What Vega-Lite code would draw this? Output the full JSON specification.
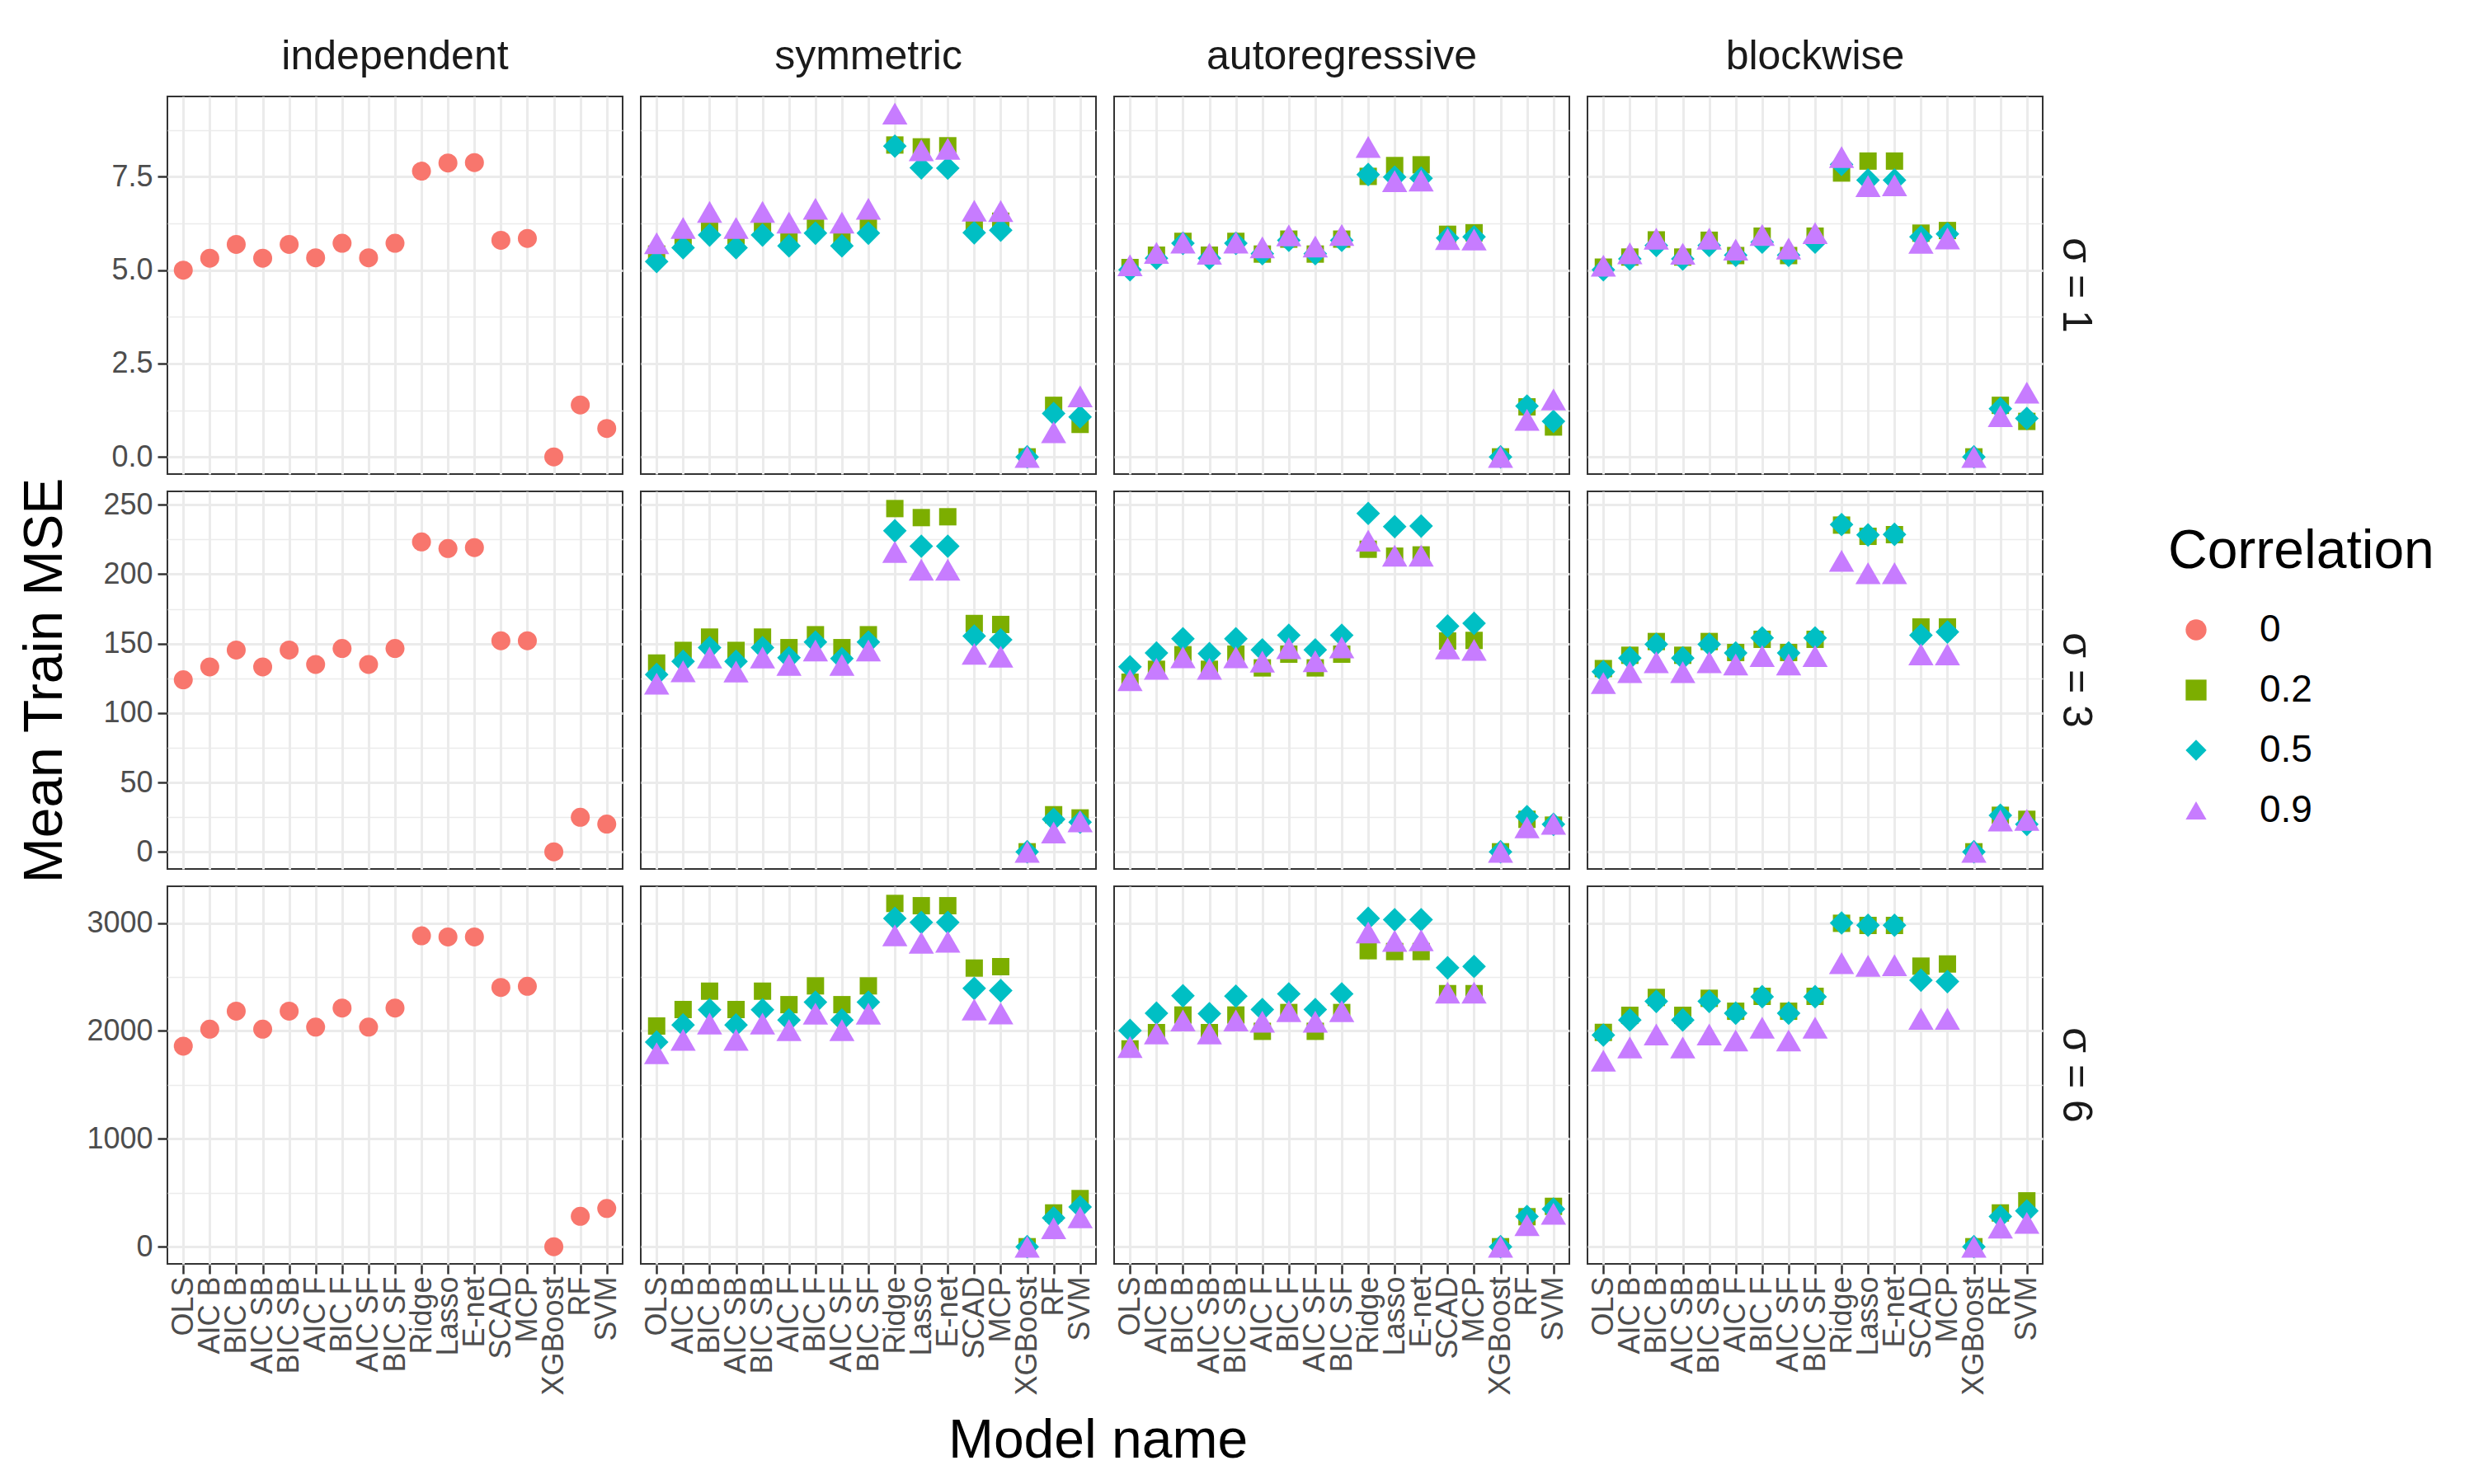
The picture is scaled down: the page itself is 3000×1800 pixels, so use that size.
{
"$schema":"https://vega.github.io/schema/vega-lite/v6.json",
"background":"white",
"padding":{"left":20,"top":44,"right":5,"bottom":5},
"config":{
 "font":"Liberation Sans",
 "view":{"stroke":"#333333","strokeWidth":2},
 "axis":{"labelFont":"Liberation Sans","labelFontSize":36,"labelColor":"#4D4D4D","tickColor":"#333333","tickSize":11,"tickWidth":2.5,"gridColor":"#EBEBEB","gridWidth":3,"domain":false,"titleFont":"Liberation Sans","titleFontSize":66,"titleFontWeight":"normal","titleColor":"#000000","labelPadding":6},
 "header":{"labelFont":"Liberation Sans","labelFontSize":50,"labelColor":"#1A1A1A"},
 "legend":{"titleFont":"Liberation Sans","titleFontSize":66,"titleFontWeight":"normal","titleColor":"#000000","titleLimit":1000,"labelFont":"Liberation Sans","labelFontSize":46,"labelColor":"#000000","rowPadding":27,"titlePadding":38,"symbolOffset":11,"labelOffset":54,"symbolSize":640,"symbolStrokeWidth":0},
 "title":{"font":"Liberation Sans","fontSize":66,"fontWeight":"normal","color":"#000000"}
},
"datasets":{
"r1":[
{"st":"independent","sig":"σ = 1","model":"OLS","corr":"0","mse":5.0},
{"st":"independent","sig":"σ = 1","model":"AIC B","corr":"0","mse":5.32},
{"st":"independent","sig":"σ = 1","model":"BIC B","corr":"0","mse":5.69},
{"st":"independent","sig":"σ = 1","model":"AIC SB","corr":"0","mse":5.32},
{"st":"independent","sig":"σ = 1","model":"BIC SB","corr":"0","mse":5.69},
{"st":"independent","sig":"σ = 1","model":"AIC F","corr":"0","mse":5.33},
{"st":"independent","sig":"σ = 1","model":"BIC F","corr":"0","mse":5.72},
{"st":"independent","sig":"σ = 1","model":"AIC SF","corr":"0","mse":5.33},
{"st":"independent","sig":"σ = 1","model":"BIC SF","corr":"0","mse":5.72},
{"st":"independent","sig":"σ = 1","model":"Ridge","corr":"0","mse":7.65},
{"st":"independent","sig":"σ = 1","model":"Lasso","corr":"0","mse":7.87},
{"st":"independent","sig":"σ = 1","model":"E-net","corr":"0","mse":7.88},
{"st":"independent","sig":"σ = 1","model":"SCAD","corr":"0","mse":5.8},
{"st":"independent","sig":"σ = 1","model":"MCP","corr":"0","mse":5.85},
{"st":"independent","sig":"σ = 1","model":"XGBoost","corr":"0","mse":0},
{"st":"independent","sig":"σ = 1","model":"RF","corr":"0","mse":1.39},
{"st":"independent","sig":"σ = 1","model":"SVM","corr":"0","mse":0.76},
{"st":"symmetric","sig":"σ = 1","model":"OLS","corr":"0.2","mse":5.43},
{"st":"symmetric","sig":"σ = 1","model":"AIC B","corr":"0.2","mse":5.79},
{"st":"symmetric","sig":"σ = 1","model":"BIC B","corr":"0.2","mse":6.16},
{"st":"symmetric","sig":"σ = 1","model":"AIC SB","corr":"0.2","mse":5.79},
{"st":"symmetric","sig":"σ = 1","model":"BIC SB","corr":"0.2","mse":6.16},
{"st":"symmetric","sig":"σ = 1","model":"AIC F","corr":"0.2","mse":5.87},
{"st":"symmetric","sig":"σ = 1","model":"BIC F","corr":"0.2","mse":6.24},
{"st":"symmetric","sig":"σ = 1","model":"AIC SF","corr":"0.2","mse":5.87},
{"st":"symmetric","sig":"σ = 1","model":"BIC SF","corr":"0.2","mse":6.24},
{"st":"symmetric","sig":"σ = 1","model":"Ridge","corr":"0.2","mse":8.35},
{"st":"symmetric","sig":"σ = 1","model":"Lasso","corr":"0.2","mse":8.30},
{"st":"symmetric","sig":"σ = 1","model":"E-net","corr":"0.2","mse":8.33},
{"st":"symmetric","sig":"σ = 1","model":"SCAD","corr":"0.2","mse":6.20},
{"st":"symmetric","sig":"σ = 1","model":"MCP","corr":"0.2","mse":6.31},
{"st":"symmetric","sig":"σ = 1","model":"XGBoost","corr":"0.2","mse":0},
{"st":"symmetric","sig":"σ = 1","model":"RF","corr":"0.2","mse":1.38},
{"st":"symmetric","sig":"σ = 1","model":"SVM","corr":"0.2","mse":0.87},
{"st":"symmetric","sig":"σ = 1","model":"OLS","corr":"0.5","mse":5.23},
{"st":"symmetric","sig":"σ = 1","model":"AIC B","corr":"0.5","mse":5.60},
{"st":"symmetric","sig":"σ = 1","model":"BIC B","corr":"0.5","mse":5.94},
{"st":"symmetric","sig":"σ = 1","model":"AIC SB","corr":"0.5","mse":5.60},
{"st":"symmetric","sig":"σ = 1","model":"BIC SB","corr":"0.5","mse":5.94},
{"st":"symmetric","sig":"σ = 1","model":"AIC F","corr":"0.5","mse":5.65},
{"st":"symmetric","sig":"σ = 1","model":"BIC F","corr":"0.5","mse":5.99},
{"st":"symmetric","sig":"σ = 1","model":"AIC SF","corr":"0.5","mse":5.65},
{"st":"symmetric","sig":"σ = 1","model":"BIC SF","corr":"0.5","mse":5.99},
{"st":"symmetric","sig":"σ = 1","model":"Ridge","corr":"0.5","mse":8.32},
{"st":"symmetric","sig":"σ = 1","model":"Lasso","corr":"0.5","mse":7.74},
{"st":"symmetric","sig":"σ = 1","model":"E-net","corr":"0.5","mse":7.73},
{"st":"symmetric","sig":"σ = 1","model":"SCAD","corr":"0.5","mse":6.00},
{"st":"symmetric","sig":"σ = 1","model":"MCP","corr":"0.5","mse":6.07},
{"st":"symmetric","sig":"σ = 1","model":"XGBoost","corr":"0.5","mse":0},
{"st":"symmetric","sig":"σ = 1","model":"RF","corr":"0.5","mse":1.16},
{"st":"symmetric","sig":"σ = 1","model":"SVM","corr":"0.5","mse":1.07},
{"st":"symmetric","sig":"σ = 1","model":"OLS","corr":"0.9","mse":5.72},
{"st":"symmetric","sig":"σ = 1","model":"AIC B","corr":"0.9","mse":6.13},
{"st":"symmetric","sig":"σ = 1","model":"BIC B","corr":"0.9","mse":6.56},
{"st":"symmetric","sig":"σ = 1","model":"AIC SB","corr":"0.9","mse":6.13},
{"st":"symmetric","sig":"σ = 1","model":"BIC SB","corr":"0.9","mse":6.56},
{"st":"symmetric","sig":"σ = 1","model":"AIC F","corr":"0.9","mse":6.27},
{"st":"symmetric","sig":"σ = 1","model":"BIC F","corr":"0.9","mse":6.64},
{"st":"symmetric","sig":"σ = 1","model":"AIC SF","corr":"0.9","mse":6.27},
{"st":"symmetric","sig":"σ = 1","model":"BIC SF","corr":"0.9","mse":6.64},
{"st":"symmetric","sig":"σ = 1","model":"Ridge","corr":"0.9","mse":9.19},
{"st":"symmetric","sig":"σ = 1","model":"Lasso","corr":"0.9","mse":8.21},
{"st":"symmetric","sig":"σ = 1","model":"E-net","corr":"0.9","mse":8.25},
{"st":"symmetric","sig":"σ = 1","model":"SCAD","corr":"0.9","mse":6.59},
{"st":"symmetric","sig":"σ = 1","model":"MCP","corr":"0.9","mse":6.58},
{"st":"symmetric","sig":"σ = 1","model":"XGBoost","corr":"0.9","mse":0},
{"st":"symmetric","sig":"σ = 1","model":"RF","corr":"0.9","mse":0.66},
{"st":"symmetric","sig":"σ = 1","model":"SVM","corr":"0.9","mse":1.62},
{"st":"autoregressive","sig":"σ = 1","model":"OLS","corr":"0.2","mse":5.07},
{"st":"autoregressive","sig":"σ = 1","model":"AIC B","corr":"0.2","mse":5.40},
{"st":"autoregressive","sig":"σ = 1","model":"BIC B","corr":"0.2","mse":5.77},
{"st":"autoregressive","sig":"σ = 1","model":"AIC SB","corr":"0.2","mse":5.40},
{"st":"autoregressive","sig":"σ = 1","model":"BIC SB","corr":"0.2","mse":5.77},
{"st":"autoregressive","sig":"σ = 1","model":"AIC F","corr":"0.2","mse":5.43},
{"st":"autoregressive","sig":"σ = 1","model":"BIC F","corr":"0.2","mse":5.83},
{"st":"autoregressive","sig":"σ = 1","model":"AIC SF","corr":"0.2","mse":5.43},
{"st":"autoregressive","sig":"σ = 1","model":"BIC SF","corr":"0.2","mse":5.83},
{"st":"autoregressive","sig":"σ = 1","model":"Ridge","corr":"0.2","mse":7.51},
{"st":"autoregressive","sig":"σ = 1","model":"Lasso","corr":"0.2","mse":7.80},
{"st":"autoregressive","sig":"σ = 1","model":"E-net","corr":"0.2","mse":7.82},
{"st":"autoregressive","sig":"σ = 1","model":"SCAD","corr":"0.2","mse":5.96},
{"st":"autoregressive","sig":"σ = 1","model":"MCP","corr":"0.2","mse":6.00},
{"st":"autoregressive","sig":"σ = 1","model":"XGBoost","corr":"0.2","mse":0},
{"st":"autoregressive","sig":"σ = 1","model":"RF","corr":"0.2","mse":1.34},
{"st":"autoregressive","sig":"σ = 1","model":"SVM","corr":"0.2","mse":0.80},
{"st":"autoregressive","sig":"σ = 1","model":"OLS","corr":"0.5","mse":5.01},
{"st":"autoregressive","sig":"σ = 1","model":"AIC B","corr":"0.5","mse":5.32},
{"st":"autoregressive","sig":"σ = 1","model":"BIC B","corr":"0.5","mse":5.72},
{"st":"autoregressive","sig":"σ = 1","model":"AIC SB","corr":"0.5","mse":5.32},
{"st":"autoregressive","sig":"σ = 1","model":"BIC SB","corr":"0.5","mse":5.72},
{"st":"autoregressive","sig":"σ = 1","model":"AIC F","corr":"0.5","mse":5.44},
{"st":"autoregressive","sig":"σ = 1","model":"BIC F","corr":"0.5","mse":5.80},
{"st":"autoregressive","sig":"σ = 1","model":"AIC SF","corr":"0.5","mse":5.44},
{"st":"autoregressive","sig":"σ = 1","model":"BIC SF","corr":"0.5","mse":5.80},
{"st":"autoregressive","sig":"σ = 1","model":"Ridge","corr":"0.5","mse":7.56},
{"st":"autoregressive","sig":"σ = 1","model":"Lasso","corr":"0.5","mse":7.49},
{"st":"autoregressive","sig":"σ = 1","model":"E-net","corr":"0.5","mse":7.46},
{"st":"autoregressive","sig":"σ = 1","model":"SCAD","corr":"0.5","mse":5.86},
{"st":"autoregressive","sig":"σ = 1","model":"MCP","corr":"0.5","mse":5.89},
{"st":"autoregressive","sig":"σ = 1","model":"XGBoost","corr":"0.5","mse":0},
{"st":"autoregressive","sig":"σ = 1","model":"RF","corr":"0.5","mse":1.36},
{"st":"autoregressive","sig":"σ = 1","model":"SVM","corr":"0.5","mse":0.95},
{"st":"autoregressive","sig":"σ = 1","model":"OLS","corr":"0.9","mse":5.13},
{"st":"autoregressive","sig":"σ = 1","model":"AIC B","corr":"0.9","mse":5.46},
{"st":"autoregressive","sig":"σ = 1","model":"BIC B","corr":"0.9","mse":5.74},
{"st":"autoregressive","sig":"σ = 1","model":"AIC SB","corr":"0.9","mse":5.44},
{"st":"autoregressive","sig":"σ = 1","model":"BIC SB","corr":"0.9","mse":5.74},
{"st":"autoregressive","sig":"σ = 1","model":"AIC F","corr":"0.9","mse":5.61},
{"st":"autoregressive","sig":"σ = 1","model":"BIC F","corr":"0.9","mse":5.93},
{"st":"autoregressive","sig":"σ = 1","model":"AIC SF","corr":"0.9","mse":5.63},
{"st":"autoregressive","sig":"σ = 1","model":"BIC SF","corr":"0.9","mse":5.94},
{"st":"autoregressive","sig":"σ = 1","model":"Ridge","corr":"0.9","mse":8.30},
{"st":"autoregressive","sig":"σ = 1","model":"Lasso","corr":"0.9","mse":7.38},
{"st":"autoregressive","sig":"σ = 1","model":"E-net","corr":"0.9","mse":7.40},
{"st":"autoregressive","sig":"σ = 1","model":"SCAD","corr":"0.9","mse":5.83},
{"st":"autoregressive","sig":"σ = 1","model":"MCP","corr":"0.9","mse":5.82},
{"st":"autoregressive","sig":"σ = 1","model":"XGBoost","corr":"0.9","mse":0},
{"st":"autoregressive","sig":"σ = 1","model":"RF","corr":"0.9","mse":0.99},
{"st":"autoregressive","sig":"σ = 1","model":"SVM","corr":"0.9","mse":1.54},
{"st":"blockwise","sig":"σ = 1","model":"OLS","corr":"0.2","mse":5.08},
{"st":"blockwise","sig":"σ = 1","model":"AIC B","corr":"0.2","mse":5.35},
{"st":"blockwise","sig":"σ = 1","model":"BIC B","corr":"0.2","mse":5.81},
{"st":"blockwise","sig":"σ = 1","model":"AIC SB","corr":"0.2","mse":5.35},
{"st":"blockwise","sig":"σ = 1","model":"BIC SB","corr":"0.2","mse":5.80},
{"st":"blockwise","sig":"σ = 1","model":"AIC F","corr":"0.2","mse":5.39},
{"st":"blockwise","sig":"σ = 1","model":"BIC F","corr":"0.2","mse":5.91},
{"st":"blockwise","sig":"σ = 1","model":"AIC SF","corr":"0.2","mse":5.39},
{"st":"blockwise","sig":"σ = 1","model":"BIC SF","corr":"0.2","mse":5.91},
{"st":"blockwise","sig":"σ = 1","model":"Ridge","corr":"0.2","mse":7.60},
{"st":"blockwise","sig":"σ = 1","model":"Lasso","corr":"0.2","mse":7.92},
{"st":"blockwise","sig":"σ = 1","model":"E-net","corr":"0.2","mse":7.92},
{"st":"blockwise","sig":"σ = 1","model":"SCAD","corr":"0.2","mse":5.99},
{"st":"blockwise","sig":"σ = 1","model":"MCP","corr":"0.2","mse":6.06},
{"st":"blockwise","sig":"σ = 1","model":"XGBoost","corr":"0.2","mse":0},
{"st":"blockwise","sig":"σ = 1","model":"RF","corr":"0.2","mse":1.38},
{"st":"blockwise","sig":"σ = 1","model":"SVM","corr":"0.2","mse":0.95},
{"st":"blockwise","sig":"σ = 1","model":"OLS","corr":"0.5","mse":5.01},
{"st":"blockwise","sig":"σ = 1","model":"AIC B","corr":"0.5","mse":5.30},
{"st":"blockwise","sig":"σ = 1","model":"BIC B","corr":"0.5","mse":5.66},
{"st":"blockwise","sig":"σ = 1","model":"AIC SB","corr":"0.5","mse":5.30},
{"st":"blockwise","sig":"σ = 1","model":"BIC SB","corr":"0.5","mse":5.66},
{"st":"blockwise","sig":"σ = 1","model":"AIC F","corr":"0.5","mse":5.40},
{"st":"blockwise","sig":"σ = 1","model":"BIC F","corr":"0.5","mse":5.75},
{"st":"blockwise","sig":"σ = 1","model":"AIC SF","corr":"0.5","mse":5.40},
{"st":"blockwise","sig":"σ = 1","model":"BIC SF","corr":"0.5","mse":5.75},
{"st":"blockwise","sig":"σ = 1","model":"Ridge","corr":"0.5","mse":7.83},
{"st":"blockwise","sig":"σ = 1","model":"Lasso","corr":"0.5","mse":7.41},
{"st":"blockwise","sig":"σ = 1","model":"E-net","corr":"0.5","mse":7.41},
{"st":"blockwise","sig":"σ = 1","model":"SCAD","corr":"0.5","mse":5.89},
{"st":"blockwise","sig":"σ = 1","model":"MCP","corr":"0.5","mse":5.97},
{"st":"blockwise","sig":"σ = 1","model":"XGBoost","corr":"0.5","mse":0},
{"st":"blockwise","sig":"σ = 1","model":"RF","corr":"0.5","mse":1.29},
{"st":"blockwise","sig":"σ = 1","model":"SVM","corr":"0.5","mse":1.03},
{"st":"blockwise","sig":"σ = 1","model":"OLS","corr":"0.9","mse":5.12},
{"st":"blockwise","sig":"σ = 1","model":"AIC B","corr":"0.9","mse":5.45},
{"st":"blockwise","sig":"σ = 1","model":"BIC B","corr":"0.9","mse":5.84},
{"st":"blockwise","sig":"σ = 1","model":"AIC SB","corr":"0.9","mse":5.44},
{"st":"blockwise","sig":"σ = 1","model":"BIC SB","corr":"0.9","mse":5.84},
{"st":"blockwise","sig":"σ = 1","model":"AIC F","corr":"0.9","mse":5.55},
{"st":"blockwise","sig":"σ = 1","model":"BIC F","corr":"0.9","mse":5.94},
{"st":"blockwise","sig":"σ = 1","model":"AIC SF","corr":"0.9","mse":5.58},
{"st":"blockwise","sig":"σ = 1","model":"BIC SF","corr":"0.9","mse":5.99},
{"st":"blockwise","sig":"σ = 1","model":"Ridge","corr":"0.9","mse":8.03},
{"st":"blockwise","sig":"σ = 1","model":"Lasso","corr":"0.9","mse":7.25},
{"st":"blockwise","sig":"σ = 1","model":"E-net","corr":"0.9","mse":7.27},
{"st":"blockwise","sig":"σ = 1","model":"SCAD","corr":"0.9","mse":5.73},
{"st":"blockwise","sig":"σ = 1","model":"MCP","corr":"0.9","mse":5.85},
{"st":"blockwise","sig":"σ = 1","model":"XGBoost","corr":"0.9","mse":0},
{"st":"blockwise","sig":"σ = 1","model":"RF","corr":"0.9","mse":1.09},
{"st":"blockwise","sig":"σ = 1","model":"SVM","corr":"0.9","mse":1.72}
],
"r3":[
{"st":"independent","sig":"σ = 3","model":"OLS","corr":"0","mse":123.9},
{"st":"independent","sig":"σ = 3","model":"AIC B","corr":"0","mse":133.2},
{"st":"independent","sig":"σ = 3","model":"BIC B","corr":"0","mse":145.4},
{"st":"independent","sig":"σ = 3","model":"AIC SB","corr":"0","mse":133.2},
{"st":"independent","sig":"σ = 3","model":"BIC SB","corr":"0","mse":145.4},
{"st":"independent","sig":"σ = 3","model":"AIC F","corr":"0","mse":135},
{"st":"independent","sig":"σ = 3","model":"BIC F","corr":"0","mse":146.5},
{"st":"independent","sig":"σ = 3","model":"AIC SF","corr":"0","mse":135},
{"st":"independent","sig":"σ = 3","model":"BIC SF","corr":"0","mse":146.5},
{"st":"independent","sig":"σ = 3","model":"Ridge","corr":"0","mse":223.3},
{"st":"independent","sig":"σ = 3","model":"Lasso","corr":"0","mse":218.5},
{"st":"independent","sig":"σ = 3","model":"E-net","corr":"0","mse":219.2},
{"st":"independent","sig":"σ = 3","model":"SCAD","corr":"0","mse":152.1},
{"st":"independent","sig":"σ = 3","model":"MCP","corr":"0","mse":152.1},
{"st":"independent","sig":"σ = 3","model":"XGBoost","corr":"0","mse":0},
{"st":"independent","sig":"σ = 3","model":"RF","corr":"0","mse":24.9},
{"st":"independent","sig":"σ = 3","model":"SVM","corr":"0","mse":20},
{"st":"symmetric","sig":"σ = 3","model":"OLS","corr":"0.2","mse":136},
{"st":"symmetric","sig":"σ = 3","model":"AIC B","corr":"0.2","mse":145.1},
{"st":"symmetric","sig":"σ = 3","model":"BIC B","corr":"0.2","mse":154.7},
{"st":"symmetric","sig":"σ = 3","model":"AIC SB","corr":"0.2","mse":145.1},
{"st":"symmetric","sig":"σ = 3","model":"BIC SB","corr":"0.2","mse":154.7},
{"st":"symmetric","sig":"σ = 3","model":"AIC F","corr":"0.2","mse":147.1},
{"st":"symmetric","sig":"σ = 3","model":"BIC F","corr":"0.2","mse":156.4},
{"st":"symmetric","sig":"σ = 3","model":"AIC SF","corr":"0.2","mse":147.1},
{"st":"symmetric","sig":"σ = 3","model":"BIC SF","corr":"0.2","mse":156.4},
{"st":"symmetric","sig":"σ = 3","model":"Ridge","corr":"0.2","mse":247.3},
{"st":"symmetric","sig":"σ = 3","model":"Lasso","corr":"0.2","mse":240.8},
{"st":"symmetric","sig":"σ = 3","model":"E-net","corr":"0.2","mse":241.4},
{"st":"symmetric","sig":"σ = 3","model":"SCAD","corr":"0.2","mse":164.5},
{"st":"symmetric","sig":"σ = 3","model":"MCP","corr":"0.2","mse":163.8},
{"st":"symmetric","sig":"σ = 3","model":"XGBoost","corr":"0.2","mse":0},
{"st":"symmetric","sig":"σ = 3","model":"RF","corr":"0.2","mse":26.7},
{"st":"symmetric","sig":"σ = 3","model":"SVM","corr":"0.2","mse":24.4},
{"st":"symmetric","sig":"σ = 3","model":"OLS","corr":"0.5","mse":127.7},
{"st":"symmetric","sig":"σ = 3","model":"AIC B","corr":"0.5","mse":137.2},
{"st":"symmetric","sig":"σ = 3","model":"BIC B","corr":"0.5","mse":147.1},
{"st":"symmetric","sig":"σ = 3","model":"AIC SB","corr":"0.5","mse":137.2},
{"st":"symmetric","sig":"σ = 3","model":"BIC SB","corr":"0.5","mse":147.1},
{"st":"symmetric","sig":"σ = 3","model":"AIC F","corr":"0.5","mse":139.8},
{"st":"symmetric","sig":"σ = 3","model":"BIC F","corr":"0.5","mse":151.1},
{"st":"symmetric","sig":"σ = 3","model":"AIC SF","corr":"0.5","mse":139.2},
{"st":"symmetric","sig":"σ = 3","model":"BIC SF","corr":"0.5","mse":151.1},
{"st":"symmetric","sig":"σ = 3","model":"Ridge","corr":"0.5","mse":231.3},
{"st":"symmetric","sig":"σ = 3","model":"Lasso","corr":"0.5","mse":220.2},
{"st":"symmetric","sig":"σ = 3","model":"E-net","corr":"0.5","mse":220.2},
{"st":"symmetric","sig":"σ = 3","model":"SCAD","corr":"0.5","mse":155.4},
{"st":"symmetric","sig":"σ = 3","model":"MCP","corr":"0.5","mse":152.7},
{"st":"symmetric","sig":"σ = 3","model":"XGBoost","corr":"0.5","mse":0},
{"st":"symmetric","sig":"σ = 3","model":"RF","corr":"0.5","mse":23.4},
{"st":"symmetric","sig":"σ = 3","model":"SVM","corr":"0.5","mse":21.4},
{"st":"symmetric","sig":"σ = 3","model":"OLS","corr":"0.9","mse":121.2},
{"st":"symmetric","sig":"σ = 3","model":"AIC B","corr":"0.9","mse":130.1},
{"st":"symmetric","sig":"σ = 3","model":"BIC B","corr":"0.9","mse":140},
{"st":"symmetric","sig":"σ = 3","model":"AIC SB","corr":"0.9","mse":129.9},
{"st":"symmetric","sig":"σ = 3","model":"BIC SB","corr":"0.9","mse":140},
{"st":"symmetric","sig":"σ = 3","model":"AIC F","corr":"0.9","mse":134.7},
{"st":"symmetric","sig":"σ = 3","model":"BIC F","corr":"0.9","mse":145},
{"st":"symmetric","sig":"σ = 3","model":"AIC SF","corr":"0.9","mse":134.7},
{"st":"symmetric","sig":"σ = 3","model":"BIC SF","corr":"0.9","mse":145},
{"st":"symmetric","sig":"σ = 3","model":"Ridge","corr":"0.9","mse":216},
{"st":"symmetric","sig":"σ = 3","model":"Lasso","corr":"0.9","mse":203.2},
{"st":"symmetric","sig":"σ = 3","model":"E-net","corr":"0.9","mse":203.2},
{"st":"symmetric","sig":"σ = 3","model":"SCAD","corr":"0.9","mse":142.6},
{"st":"symmetric","sig":"σ = 3","model":"MCP","corr":"0.9","mse":140.6},
{"st":"symmetric","sig":"σ = 3","model":"XGBoost","corr":"0.9","mse":0},
{"st":"symmetric","sig":"σ = 3","model":"RF","corr":"0.9","mse":13.9},
{"st":"symmetric","sig":"σ = 3","model":"SVM","corr":"0.9","mse":22},
{"st":"autoregressive","sig":"σ = 3","model":"OLS","corr":"0.2","mse":122.2},
{"st":"autoregressive","sig":"σ = 3","model":"AIC B","corr":"0.2","mse":131.5},
{"st":"autoregressive","sig":"σ = 3","model":"BIC B","corr":"0.2","mse":142},
{"st":"autoregressive","sig":"σ = 3","model":"AIC SB","corr":"0.2","mse":131.5},
{"st":"autoregressive","sig":"σ = 3","model":"BIC SB","corr":"0.2","mse":142.4},
{"st":"autoregressive","sig":"σ = 3","model":"AIC F","corr":"0.2","mse":132.5},
{"st":"autoregressive","sig":"σ = 3","model":"BIC F","corr":"0.2","mse":142.4},
{"st":"autoregressive","sig":"σ = 3","model":"AIC SF","corr":"0.2","mse":132.5},
{"st":"autoregressive","sig":"σ = 3","model":"BIC SF","corr":"0.2","mse":142.4},
{"st":"autoregressive","sig":"σ = 3","model":"Ridge","corr":"0.2","mse":218},
{"st":"autoregressive","sig":"σ = 3","model":"Lasso","corr":"0.2","mse":213},
{"st":"autoregressive","sig":"σ = 3","model":"E-net","corr":"0.2","mse":213.9},
{"st":"autoregressive","sig":"σ = 3","model":"SCAD","corr":"0.2","mse":151.9},
{"st":"autoregressive","sig":"σ = 3","model":"MCP","corr":"0.2","mse":152.3},
{"st":"autoregressive","sig":"σ = 3","model":"XGBoost","corr":"0.2","mse":0},
{"st":"autoregressive","sig":"σ = 3","model":"RF","corr":"0.2","mse":23.4},
{"st":"autoregressive","sig":"σ = 3","model":"SVM","corr":"0.2","mse":19.2},
{"st":"autoregressive","sig":"σ = 3","model":"OLS","corr":"0.5","mse":133.3},
{"st":"autoregressive","sig":"σ = 3","model":"AIC B","corr":"0.5","mse":143.2},
{"st":"autoregressive","sig":"σ = 3","model":"BIC B","corr":"0.5","mse":153.5},
{"st":"autoregressive","sig":"σ = 3","model":"AIC SB","corr":"0.5","mse":142.8},
{"st":"autoregressive","sig":"σ = 3","model":"BIC SB","corr":"0.5","mse":153.5},
{"st":"autoregressive","sig":"σ = 3","model":"AIC F","corr":"0.5","mse":145.5},
{"st":"autoregressive","sig":"σ = 3","model":"BIC F","corr":"0.5","mse":156},
{"st":"autoregressive","sig":"σ = 3","model":"AIC SF","corr":"0.5","mse":145.5},
{"st":"autoregressive","sig":"σ = 3","model":"BIC SF","corr":"0.5","mse":156},
{"st":"autoregressive","sig":"σ = 3","model":"Ridge","corr":"0.5","mse":243.8},
{"st":"autoregressive","sig":"σ = 3","model":"Lasso","corr":"0.5","mse":234.3},
{"st":"autoregressive","sig":"σ = 3","model":"E-net","corr":"0.5","mse":234.7},
{"st":"autoregressive","sig":"σ = 3","model":"SCAD","corr":"0.5","mse":162.6},
{"st":"autoregressive","sig":"σ = 3","model":"MCP","corr":"0.5","mse":164.6},
{"st":"autoregressive","sig":"σ = 3","model":"XGBoost","corr":"0.5","mse":0},
{"st":"autoregressive","sig":"σ = 3","model":"RF","corr":"0.5","mse":25.3},
{"st":"autoregressive","sig":"σ = 3","model":"SVM","corr":"0.5","mse":19.8},
{"st":"autoregressive","sig":"σ = 3","model":"OLS","corr":"0.9","mse":123.6},
{"st":"autoregressive","sig":"σ = 3","model":"AIC B","corr":"0.9","mse":131.9},
{"st":"autoregressive","sig":"σ = 3","model":"BIC B","corr":"0.9","mse":140.2},
{"st":"autoregressive","sig":"σ = 3","model":"AIC SB","corr":"0.9","mse":131.9},
{"st":"autoregressive","sig":"σ = 3","model":"BIC SB","corr":"0.9","mse":140.2},
{"st":"autoregressive","sig":"σ = 3","model":"AIC F","corr":"0.9","mse":137},
{"st":"autoregressive","sig":"σ = 3","model":"BIC F","corr":"0.9","mse":146.7},
{"st":"autoregressive","sig":"σ = 3","model":"AIC SF","corr":"0.9","mse":137.4},
{"st":"autoregressive","sig":"σ = 3","model":"BIC SF","corr":"0.9","mse":147.3},
{"st":"autoregressive","sig":"σ = 3","model":"Ridge","corr":"0.9","mse":224.2},
{"st":"autoregressive","sig":"σ = 3","model":"Lasso","corr":"0.9","mse":213.3},
{"st":"autoregressive","sig":"σ = 3","model":"E-net","corr":"0.9","mse":213.3},
{"st":"autoregressive","sig":"σ = 3","model":"SCAD","corr":"0.9","mse":146.5},
{"st":"autoregressive","sig":"σ = 3","model":"MCP","corr":"0.9","mse":145.5},
{"st":"autoregressive","sig":"σ = 3","model":"XGBoost","corr":"0.9","mse":0},
{"st":"autoregressive","sig":"σ = 3","model":"RF","corr":"0.9","mse":17.6},
{"st":"autoregressive","sig":"σ = 3","model":"SVM","corr":"0.9","mse":20.2},
{"st":"blockwise","sig":"σ = 3","model":"OLS","corr":"0.2","mse":132},
{"st":"blockwise","sig":"σ = 3","model":"AIC B","corr":"0.2","mse":141.6},
{"st":"blockwise","sig":"σ = 3","model":"BIC B","corr":"0.2","mse":151.5},
{"st":"blockwise","sig":"σ = 3","model":"AIC SB","corr":"0.2","mse":141.6},
{"st":"blockwise","sig":"σ = 3","model":"BIC SB","corr":"0.2","mse":151.5},
{"st":"blockwise","sig":"σ = 3","model":"AIC F","corr":"0.2","mse":143.6},
{"st":"blockwise","sig":"σ = 3","model":"BIC F","corr":"0.2","mse":153.1},
{"st":"blockwise","sig":"σ = 3","model":"AIC SF","corr":"0.2","mse":143.6},
{"st":"blockwise","sig":"σ = 3","model":"BIC SF","corr":"0.2","mse":153.1},
{"st":"blockwise","sig":"σ = 3","model":"Ridge","corr":"0.2","mse":235.4},
{"st":"blockwise","sig":"σ = 3","model":"Lasso","corr":"0.2","mse":227.3},
{"st":"blockwise","sig":"σ = 3","model":"E-net","corr":"0.2","mse":228.5},
{"st":"blockwise","sig":"σ = 3","model":"SCAD","corr":"0.2","mse":162},
{"st":"blockwise","sig":"σ = 3","model":"MCP","corr":"0.2","mse":162},
{"st":"blockwise","sig":"σ = 3","model":"XGBoost","corr":"0.2","mse":0},
{"st":"blockwise","sig":"σ = 3","model":"RF","corr":"0.2","mse":26.3},
{"st":"blockwise","sig":"σ = 3","model":"SVM","corr":"0.2","mse":23.4},
{"st":"blockwise","sig":"σ = 3","model":"OLS","corr":"0.5","mse":129.7},
{"st":"blockwise","sig":"σ = 3","model":"AIC B","corr":"0.5","mse":139.6},
{"st":"blockwise","sig":"σ = 3","model":"BIC B","corr":"0.5","mse":149.5},
{"st":"blockwise","sig":"σ = 3","model":"AIC SB","corr":"0.5","mse":139.6},
{"st":"blockwise","sig":"σ = 3","model":"BIC SB","corr":"0.5","mse":149.5},
{"st":"blockwise","sig":"σ = 3","model":"AIC F","corr":"0.5","mse":143.2},
{"st":"blockwise","sig":"σ = 3","model":"BIC F","corr":"0.5","mse":154.1},
{"st":"blockwise","sig":"σ = 3","model":"AIC SF","corr":"0.5","mse":143.2},
{"st":"blockwise","sig":"σ = 3","model":"BIC SF","corr":"0.5","mse":154.1},
{"st":"blockwise","sig":"σ = 3","model":"Ridge","corr":"0.5","mse":235.8},
{"st":"blockwise","sig":"σ = 3","model":"Lasso","corr":"0.5","mse":228.3},
{"st":"blockwise","sig":"σ = 3","model":"E-net","corr":"0.5","mse":228.7},
{"st":"blockwise","sig":"σ = 3","model":"SCAD","corr":"0.5","mse":156},
{"st":"blockwise","sig":"σ = 3","model":"MCP","corr":"0.5","mse":158.4},
{"st":"blockwise","sig":"σ = 3","model":"XGBoost","corr":"0.5","mse":0},
{"st":"blockwise","sig":"σ = 3","model":"RF","corr":"0.5","mse":26.3},
{"st":"blockwise","sig":"σ = 3","model":"SVM","corr":"0.5","mse":19.8},
{"st":"blockwise","sig":"σ = 3","model":"OLS","corr":"0.9","mse":121.6},
{"st":"blockwise","sig":"σ = 3","model":"AIC B","corr":"0.9","mse":129.5},
{"st":"blockwise","sig":"σ = 3","model":"BIC B","corr":"0.9","mse":136.6},
{"st":"blockwise","sig":"σ = 3","model":"AIC SB","corr":"0.9","mse":129.5},
{"st":"blockwise","sig":"σ = 3","model":"BIC SB","corr":"0.9","mse":136.6},
{"st":"blockwise","sig":"σ = 3","model":"AIC F","corr":"0.9","mse":134.9},
{"st":"blockwise","sig":"σ = 3","model":"BIC F","corr":"0.9","mse":141},
{"st":"blockwise","sig":"σ = 3","model":"AIC SF","corr":"0.9","mse":134.9},
{"st":"blockwise","sig":"σ = 3","model":"BIC SF","corr":"0.9","mse":141},
{"st":"blockwise","sig":"σ = 3","model":"Ridge","corr":"0.9","mse":209.7},
{"st":"blockwise","sig":"σ = 3","model":"Lasso","corr":"0.9","mse":200.8},
{"st":"blockwise","sig":"σ = 3","model":"E-net","corr":"0.9","mse":200.8},
{"st":"blockwise","sig":"σ = 3","model":"SCAD","corr":"0.9","mse":142.2},
{"st":"blockwise","sig":"σ = 3","model":"MCP","corr":"0.9","mse":142.2},
{"st":"blockwise","sig":"σ = 3","model":"XGBoost","corr":"0.9","mse":0},
{"st":"blockwise","sig":"σ = 3","model":"RF","corr":"0.9","mse":22.6},
{"st":"blockwise","sig":"σ = 3","model":"SVM","corr":"0.9","mse":23}
],
"r6":[
{"st":"independent","sig":"σ = 6","model":"OLS","corr":"0","mse":1858},
{"st":"independent","sig":"σ = 6","model":"AIC B","corr":"0","mse":2016},
{"st":"independent","sig":"σ = 6","model":"BIC B","corr":"0","mse":2183},
{"st":"independent","sig":"σ = 6","model":"AIC SB","corr":"0","mse":2016},
{"st":"independent","sig":"σ = 6","model":"BIC SB","corr":"0","mse":2183},
{"st":"independent","sig":"σ = 6","model":"AIC F","corr":"0","mse":2035},
{"st":"independent","sig":"σ = 6","model":"BIC F","corr":"0","mse":2212},
{"st":"independent","sig":"σ = 6","model":"AIC SF","corr":"0","mse":2035},
{"st":"independent","sig":"σ = 6","model":"BIC SF","corr":"0","mse":2212},
{"st":"independent","sig":"σ = 6","model":"Ridge","corr":"0","mse":2881},
{"st":"independent","sig":"σ = 6","model":"Lasso","corr":"0","mse":2871},
{"st":"independent","sig":"σ = 6","model":"E-net","corr":"0","mse":2871},
{"st":"independent","sig":"σ = 6","model":"SCAD","corr":"0","mse":2403},
{"st":"independent","sig":"σ = 6","model":"MCP","corr":"0","mse":2413},
{"st":"independent","sig":"σ = 6","model":"XGBoost","corr":"0","mse":0},
{"st":"independent","sig":"σ = 6","model":"RF","corr":"0","mse":282},
{"st":"independent","sig":"σ = 6","model":"SVM","corr":"0","mse":354},
{"st":"symmetric","sig":"σ = 6","model":"OLS","corr":"0.2","mse":2045},
{"st":"symmetric","sig":"σ = 6","model":"AIC B","corr":"0.2","mse":2198},
{"st":"symmetric","sig":"σ = 6","model":"BIC B","corr":"0.2","mse":2368},
{"st":"symmetric","sig":"σ = 6","model":"AIC SB","corr":"0.2","mse":2198},
{"st":"symmetric","sig":"σ = 6","model":"BIC SB","corr":"0.2","mse":2368},
{"st":"symmetric","sig":"σ = 6","model":"AIC F","corr":"0.2","mse":2243},
{"st":"symmetric","sig":"σ = 6","model":"BIC F","corr":"0.2","mse":2417},
{"st":"symmetric","sig":"σ = 6","model":"AIC SF","corr":"0.2","mse":2243},
{"st":"symmetric","sig":"σ = 6","model":"BIC SF","corr":"0.2","mse":2417},
{"st":"symmetric","sig":"σ = 6","model":"Ridge","corr":"0.2","mse":3181},
{"st":"symmetric","sig":"σ = 6","model":"Lasso","corr":"0.2","mse":3160},
{"st":"symmetric","sig":"σ = 6","model":"E-net","corr":"0.2","mse":3160},
{"st":"symmetric","sig":"σ = 6","model":"SCAD","corr":"0.2","mse":2582},
{"st":"symmetric","sig":"σ = 6","model":"MCP","corr":"0.2","mse":2595},
{"st":"symmetric","sig":"σ = 6","model":"XGBoost","corr":"0.2","mse":0},
{"st":"symmetric","sig":"σ = 6","model":"RF","corr":"0.2","mse":313},
{"st":"symmetric","sig":"σ = 6","model":"SVM","corr":"0.2","mse":446},
{"st":"symmetric","sig":"σ = 6","model":"OLS","corr":"0.5","mse":1897},
{"st":"symmetric","sig":"σ = 6","model":"AIC B","corr":"0.5","mse":2055},
{"st":"symmetric","sig":"σ = 6","model":"BIC B","corr":"0.5","mse":2195},
{"st":"symmetric","sig":"σ = 6","model":"AIC SB","corr":"0.5","mse":2055},
{"st":"symmetric","sig":"σ = 6","model":"BIC SB","corr":"0.5","mse":2195},
{"st":"symmetric","sig":"σ = 6","model":"AIC F","corr":"0.5","mse":2101},
{"st":"symmetric","sig":"σ = 6","model":"BIC F","corr":"0.5","mse":2266},
{"st":"symmetric","sig":"σ = 6","model":"AIC SF","corr":"0.5","mse":2101},
{"st":"symmetric","sig":"σ = 6","model":"BIC SF","corr":"0.5","mse":2266},
{"st":"symmetric","sig":"σ = 6","model":"Ridge","corr":"0.5","mse":3043},
{"st":"symmetric","sig":"σ = 6","model":"Lasso","corr":"0.5","mse":3005},
{"st":"symmetric","sig":"σ = 6","model":"E-net","corr":"0.5","mse":3005},
{"st":"symmetric","sig":"σ = 6","model":"SCAD","corr":"0.5","mse":2394},
{"st":"symmetric","sig":"σ = 6","model":"MCP","corr":"0.5","mse":2373},
{"st":"symmetric","sig":"σ = 6","model":"XGBoost","corr":"0.5","mse":0},
{"st":"symmetric","sig":"σ = 6","model":"RF","corr":"0.5","mse":267},
{"st":"symmetric","sig":"σ = 6","model":"SVM","corr":"0.5","mse":369},
{"st":"symmetric","sig":"σ = 6","model":"OLS","corr":"0.9","mse":1793},
{"st":"symmetric","sig":"σ = 6","model":"AIC B","corr":"0.9","mse":1917},
{"st":"symmetric","sig":"σ = 6","model":"BIC B","corr":"0.9","mse":2068},
{"st":"symmetric","sig":"σ = 6","model":"AIC SB","corr":"0.9","mse":1917},
{"st":"symmetric","sig":"σ = 6","model":"BIC SB","corr":"0.9","mse":2068},
{"st":"symmetric","sig":"σ = 6","model":"AIC F","corr":"0.9","mse":2007},
{"st":"symmetric","sig":"σ = 6","model":"BIC F","corr":"0.9","mse":2159},
{"st":"symmetric","sig":"σ = 6","model":"AIC SF","corr":"0.9","mse":2007},
{"st":"symmetric","sig":"σ = 6","model":"BIC SF","corr":"0.9","mse":2159},
{"st":"symmetric","sig":"σ = 6","model":"Ridge","corr":"0.9","mse":2885},
{"st":"symmetric","sig":"σ = 6","model":"Lasso","corr":"0.9","mse":2816},
{"st":"symmetric","sig":"σ = 6","model":"E-net","corr":"0.9","mse":2827},
{"st":"symmetric","sig":"σ = 6","model":"SCAD","corr":"0.9","mse":2198},
{"st":"symmetric","sig":"σ = 6","model":"MCP","corr":"0.9","mse":2162},
{"st":"symmetric","sig":"σ = 6","model":"XGBoost","corr":"0.9","mse":0},
{"st":"symmetric","sig":"σ = 6","model":"RF","corr":"0.9","mse":171},
{"st":"symmetric","sig":"σ = 6","model":"SVM","corr":"0.9","mse":272},
{"st":"autoregressive","sig":"σ = 6","model":"OLS","corr":"0.2","mse":1833},
{"st":"autoregressive","sig":"σ = 6","model":"AIC B","corr":"0.2","mse":1984},
{"st":"autoregressive","sig":"σ = 6","model":"BIC B","corr":"0.2","mse":2147},
{"st":"autoregressive","sig":"σ = 6","model":"AIC SB","corr":"0.2","mse":1984},
{"st":"autoregressive","sig":"σ = 6","model":"BIC SB","corr":"0.2","mse":2147},
{"st":"autoregressive","sig":"σ = 6","model":"AIC F","corr":"0.2","mse":1996},
{"st":"autoregressive","sig":"σ = 6","model":"BIC F","corr":"0.2","mse":2170},
{"st":"autoregressive","sig":"σ = 6","model":"AIC SF","corr":"0.2","mse":1996},
{"st":"autoregressive","sig":"σ = 6","model":"BIC SF","corr":"0.2","mse":2170},
{"st":"autoregressive","sig":"σ = 6","model":"Ridge","corr":"0.2","mse":2743},
{"st":"autoregressive","sig":"σ = 6","model":"Lasso","corr":"0.2","mse":2735},
{"st":"autoregressive","sig":"σ = 6","model":"E-net","corr":"0.2","mse":2735},
{"st":"autoregressive","sig":"σ = 6","model":"SCAD","corr":"0.2","mse":2345},
{"st":"autoregressive","sig":"σ = 6","model":"MCP","corr":"0.2","mse":2345},
{"st":"autoregressive","sig":"σ = 6","model":"XGBoost","corr":"0.2","mse":0},
{"st":"autoregressive","sig":"σ = 6","model":"RF","corr":"0.2","mse":278},
{"st":"autoregressive","sig":"σ = 6","model":"SVM","corr":"0.2","mse":374},
{"st":"autoregressive","sig":"σ = 6","model":"OLS","corr":"0.5","mse":2004},
{"st":"autoregressive","sig":"σ = 6","model":"AIC B","corr":"0.5","mse":2164},
{"st":"autoregressive","sig":"σ = 6","model":"BIC B","corr":"0.5","mse":2325},
{"st":"autoregressive","sig":"σ = 6","model":"AIC SB","corr":"0.5","mse":2159},
{"st":"autoregressive","sig":"σ = 6","model":"BIC SB","corr":"0.5","mse":2322},
{"st":"autoregressive","sig":"σ = 6","model":"AIC F","corr":"0.5","mse":2198},
{"st":"autoregressive","sig":"σ = 6","model":"BIC F","corr":"0.5","mse":2343},
{"st":"autoregressive","sig":"σ = 6","model":"AIC SF","corr":"0.5","mse":2198},
{"st":"autoregressive","sig":"σ = 6","model":"BIC SF","corr":"0.5","mse":2343},
{"st":"autoregressive","sig":"σ = 6","model":"Ridge","corr":"0.5","mse":3043},
{"st":"autoregressive","sig":"σ = 6","model":"Lasso","corr":"0.5","mse":3030},
{"st":"autoregressive","sig":"σ = 6","model":"E-net","corr":"0.5","mse":3030},
{"st":"autoregressive","sig":"σ = 6","model":"SCAD","corr":"0.5","mse":2585},
{"st":"autoregressive","sig":"σ = 6","model":"MCP","corr":"0.5","mse":2597},
{"st":"autoregressive","sig":"σ = 6","model":"XGBoost","corr":"0.5","mse":0},
{"st":"autoregressive","sig":"σ = 6","model":"RF","corr":"0.5","mse":280},
{"st":"autoregressive","sig":"σ = 6","model":"SVM","corr":"0.5","mse":349},
{"st":"autoregressive","sig":"σ = 6","model":"OLS","corr":"0.9","mse":1851},
{"st":"autoregressive","sig":"σ = 6","model":"AIC B","corr":"0.9","mse":1976},
{"st":"autoregressive","sig":"σ = 6","model":"BIC B","corr":"0.9","mse":2096},
{"st":"autoregressive","sig":"σ = 6","model":"AIC SB","corr":"0.9","mse":1976},
{"st":"autoregressive","sig":"σ = 6","model":"BIC SB","corr":"0.9","mse":2096},
{"st":"autoregressive","sig":"σ = 6","model":"AIC F","corr":"0.9","mse":2086},
{"st":"autoregressive","sig":"σ = 6","model":"BIC F","corr":"0.9","mse":2182},
{"st":"autoregressive","sig":"σ = 6","model":"AIC SF","corr":"0.9","mse":2086},
{"st":"autoregressive","sig":"σ = 6","model":"BIC SF","corr":"0.9","mse":2182},
{"st":"autoregressive","sig":"σ = 6","model":"Ridge","corr":"0.9","mse":2913},
{"st":"autoregressive","sig":"σ = 6","model":"Lasso","corr":"0.9","mse":2834},
{"st":"autoregressive","sig":"σ = 6","model":"E-net","corr":"0.9","mse":2839},
{"st":"autoregressive","sig":"σ = 6","model":"SCAD","corr":"0.9","mse":2355},
{"st":"autoregressive","sig":"σ = 6","model":"MCP","corr":"0.9","mse":2355},
{"st":"autoregressive","sig":"σ = 6","model":"XGBoost","corr":"0.9","mse":0},
{"st":"autoregressive","sig":"σ = 6","model":"RF","corr":"0.9","mse":201},
{"st":"autoregressive","sig":"σ = 6","model":"SVM","corr":"0.9","mse":306},
{"st":"blockwise","sig":"σ = 6","model":"OLS","corr":"0.2","mse":1986},
{"st":"blockwise","sig":"σ = 6","model":"AIC B","corr":"0.2","mse":2144},
{"st":"blockwise","sig":"σ = 6","model":"BIC B","corr":"0.2","mse":2310},
{"st":"blockwise","sig":"σ = 6","model":"AIC SB","corr":"0.2","mse":2144},
{"st":"blockwise","sig":"σ = 6","model":"BIC SB","corr":"0.2","mse":2302},
{"st":"blockwise","sig":"σ = 6","model":"AIC F","corr":"0.2","mse":2182},
{"st":"blockwise","sig":"σ = 6","model":"BIC F","corr":"0.2","mse":2320},
{"st":"blockwise","sig":"σ = 6","model":"AIC SF","corr":"0.2","mse":2182},
{"st":"blockwise","sig":"σ = 6","model":"BIC SF","corr":"0.2","mse":2320},
{"st":"blockwise","sig":"σ = 6","model":"Ridge","corr":"0.2","mse":2997},
{"st":"blockwise","sig":"σ = 6","model":"Lasso","corr":"0.2","mse":2977},
{"st":"blockwise","sig":"σ = 6","model":"E-net","corr":"0.2","mse":2977},
{"st":"blockwise","sig":"σ = 6","model":"SCAD","corr":"0.2","mse":2600},
{"st":"blockwise","sig":"σ = 6","model":"MCP","corr":"0.2","mse":2620},
{"st":"blockwise","sig":"σ = 6","model":"XGBoost","corr":"0.2","mse":0},
{"st":"blockwise","sig":"σ = 6","model":"RF","corr":"0.2","mse":313},
{"st":"blockwise","sig":"σ = 6","model":"SVM","corr":"0.2","mse":425},
{"st":"blockwise","sig":"σ = 6","model":"OLS","corr":"0.5","mse":1961},
{"st":"blockwise","sig":"σ = 6","model":"AIC B","corr":"0.5","mse":2101},
{"st":"blockwise","sig":"σ = 6","model":"BIC B","corr":"0.5","mse":2274},
{"st":"blockwise","sig":"σ = 6","model":"AIC SB","corr":"0.5","mse":2101},
{"st":"blockwise","sig":"σ = 6","model":"BIC SB","corr":"0.5","mse":2274},
{"st":"blockwise","sig":"σ = 6","model":"AIC F","corr":"0.5","mse":2164},
{"st":"blockwise","sig":"σ = 6","model":"BIC F","corr":"0.5","mse":2317},
{"st":"blockwise","sig":"σ = 6","model":"AIC SF","corr":"0.5","mse":2164},
{"st":"blockwise","sig":"σ = 6","model":"BIC SF","corr":"0.5","mse":2317},
{"st":"blockwise","sig":"σ = 6","model":"Ridge","corr":"0.5","mse":3000},
{"st":"blockwise","sig":"σ = 6","model":"Lasso","corr":"0.5","mse":2979},
{"st":"blockwise","sig":"σ = 6","model":"E-net","corr":"0.5","mse":2979},
{"st":"blockwise","sig":"σ = 6","model":"SCAD","corr":"0.5","mse":2470},
{"st":"blockwise","sig":"σ = 6","model":"MCP","corr":"0.5","mse":2457},
{"st":"blockwise","sig":"σ = 6","model":"XGBoost","corr":"0.5","mse":0},
{"st":"blockwise","sig":"σ = 6","model":"RF","corr":"0.5","mse":280},
{"st":"blockwise","sig":"σ = 6","model":"SVM","corr":"0.5","mse":331},
{"st":"blockwise","sig":"σ = 6","model":"OLS","corr":"0.9","mse":1724},
{"st":"blockwise","sig":"σ = 6","model":"AIC B","corr":"0.9","mse":1846},
{"st":"blockwise","sig":"σ = 6","model":"BIC B","corr":"0.9","mse":1966},
{"st":"blockwise","sig":"σ = 6","model":"AIC SB","corr":"0.9","mse":1846},
{"st":"blockwise","sig":"σ = 6","model":"BIC SB","corr":"0.9","mse":1966},
{"st":"blockwise","sig":"σ = 6","model":"AIC F","corr":"0.9","mse":1912},
{"st":"blockwise","sig":"σ = 6","model":"BIC F","corr":"0.9","mse":2030},
{"st":"blockwise","sig":"σ = 6","model":"AIC SF","corr":"0.9","mse":1912},
{"st":"blockwise","sig":"σ = 6","model":"BIC SF","corr":"0.9","mse":2030},
{"st":"blockwise","sig":"σ = 6","model":"Ridge","corr":"0.9","mse":2628},
{"st":"blockwise","sig":"σ = 6","model":"Lasso","corr":"0.9","mse":2602},
{"st":"blockwise","sig":"σ = 6","model":"E-net","corr":"0.9","mse":2608},
{"st":"blockwise","sig":"σ = 6","model":"SCAD","corr":"0.9","mse":2111},
{"st":"blockwise","sig":"σ = 6","model":"MCP","corr":"0.9","mse":2111},
{"st":"blockwise","sig":"σ = 6","model":"XGBoost","corr":"0.9","mse":0},
{"st":"blockwise","sig":"σ = 6","model":"RF","corr":"0.9","mse":178},
{"st":"blockwise","sig":"σ = 6","model":"SVM","corr":"0.9","mse":222}
]
},
"spacing":2,
"resolve":{"scale":{"color":"shared","shape":"shared"}},
"vconcat":[
{
 "data":{"name":"r1"},
 "facet":{
  "column":{"field":"st","type":"nominal","sort":["independent","symmetric","autoregressive","blockwise"],"header":{"title":null,"labelPadding":22}},
  "row":{"field":"sig","type":"nominal","header":{"title":null,"labelOrient":"right","labelAngle":90,"labelPadding":14}}
 },
 "spacing":{"column":20,"row":0},
 "spec":{
  "width":552,"height":458,
  "layer":[
   {"mark":{"type":"point","filled":true,"opacity":1,"strokeWidth":0},
    "encoding":{
     "x":{"field":"model","type":"nominal","sort":["OLS","AIC B","BIC B","AIC SB","BIC SB","AIC F","BIC F","AIC SF","BIC SF","Ridge","Lasso","E-net","SCAD","MCP","XGBoost","RF","SVM"],"scale":{"type":"point","padding":0.6},"axis":{"grid":true,"labels":false,"ticks":false,"title":null}},
     "y":{"field":"mse","type":"quantitative","scale":{"domain":[-0.46,9.65],"nice":false,"zero":false},"axis":{"values":[0,2.5,5,7.5],"format":".1f","title":" ","minExtent":105,"titlePadding":9}},
     "color":{"field":"corr","type":"nominal","title":"Correlation","scale":{"domain":["0","0.2","0.5","0.9"],"range":["#F8766D","#7CAE00","#00BFC4","#C77CFF"]},"legend":{"orient":"none","legendX":2426,"legendY":520}},
     "shape":{"field":"corr","type":"nominal","title":"Correlation","scale":{"domain":["0","0.2","0.5","0.9"],"range":["circle","square","diamond","triangle-up"]}},
     "size":{"condition":[{"test":"datum.corr==='0'","value":529},{"test":"datum.corr==='0.2'","value":441},{"test":"datum.corr==='0.5'","value":824}],"value":936}
    }},
   {"mark":{"type":"point","opacity":0},
    "encoding":{"y":{"field":"mse","type":"quantitative","scale":{"domain":[-0.46,9.65],"nice":false,"zero":false},"axis":{"orient":"right","values":[1.25,3.75,6.25,8.75],"labels":false,"ticks":false,"domain":false,"title":null,"grid":true,"gridWidth":1.5}}}}
  ],
  "resolve":{"axis":{"y":"independent"}}
 }
},
{
 "data":{"name":"r3"},
 "facet":{
  "column":{"field":"st","type":"nominal","sort":["independent","symmetric","autoregressive","blockwise"],"header":{"title":null,"labels":false}},
  "row":{"field":"sig","type":"nominal","header":{"title":null,"labelOrient":"right","labelAngle":90,"labelPadding":14}}
 },
 "spacing":{"column":20,"row":0},
 "spec":{
  "width":552,"height":458,
  "layer":[
   {"mark":{"type":"point","filled":true,"opacity":1,"strokeWidth":0},
    "encoding":{
     "x":{"field":"model","type":"nominal","sort":["OLS","AIC B","BIC B","AIC SB","BIC SB","AIC F","BIC F","AIC SF","BIC SF","Ridge","Lasso","E-net","SCAD","MCP","XGBoost","RF","SVM"],"scale":{"type":"point","padding":0.6},"axis":{"grid":true,"labels":false,"ticks":false,"title":null}},
     "y":{"field":"mse","type":"quantitative","scale":{"domain":[-12.37,259.7],"nice":false,"zero":false},"axis":{"values":[0,50,100,150,200,250],"format":"d","title":"Mean Train MSE","minExtent":105,"titlePadding":9}},
     "color":{"field":"corr","type":"nominal","title":"Correlation","scale":{"domain":["0","0.2","0.5","0.9"],"range":["#F8766D","#7CAE00","#00BFC4","#C77CFF"]}},
     "shape":{"field":"corr","type":"nominal","title":"Correlation","scale":{"domain":["0","0.2","0.5","0.9"],"range":["circle","square","diamond","triangle-up"]}},
     "size":{"condition":[{"test":"datum.corr==='0'","value":529},{"test":"datum.corr==='0.2'","value":441},{"test":"datum.corr==='0.5'","value":824}],"value":936}
    }},
   {"mark":{"type":"point","opacity":0},
    "encoding":{"y":{"field":"mse","type":"quantitative","scale":{"domain":[-12.37,259.7],"nice":false,"zero":false},"axis":{"orient":"right","values":[25,75,125,175,225],"labels":false,"ticks":false,"domain":false,"title":null,"grid":true,"gridWidth":1.5}}}}
  ],
  "resolve":{"axis":{"y":"independent"}}
 }
},
{
 "data":{"name":"r6"},
 "title":{"text":"Model name","orient":"bottom","anchor":"middle","offset":24,"dx":50},
 "facet":{
  "column":{"field":"st","type":"nominal","sort":["independent","symmetric","autoregressive","blockwise"],"header":{"title":null,"labels":false}},
  "row":{"field":"sig","type":"nominal","header":{"title":null,"labelOrient":"right","labelAngle":90,"labelPadding":14}}
 },
 "spacing":{"column":20,"row":0},
 "spec":{
  "width":552,"height":458,
  "layer":[
   {"mark":{"type":"point","filled":true,"opacity":1,"strokeWidth":0},
    "encoding":{
     "x":{"field":"model","type":"nominal","sort":["OLS","AIC B","BIC B","AIC SB","BIC SB","AIC F","BIC F","AIC SF","BIC SF","Ridge","Lasso","E-net","SCAD","MCP","XGBoost","RF","SVM"],"scale":{"type":"point","padding":0.6},"axis":{"grid":true,"labelAngle":270,"labelPadding":3,"title":null}},
     "y":{"field":"mse","type":"quantitative","scale":{"domain":[-159,3340],"nice":false,"zero":false},"axis":{"values":[0,1000,2000,3000],"format":"d","title":" ","minExtent":105,"titlePadding":9}},
     "color":{"field":"corr","type":"nominal","title":"Correlation","scale":{"domain":["0","0.2","0.5","0.9"],"range":["#F8766D","#7CAE00","#00BFC4","#C77CFF"]}},
     "shape":{"field":"corr","type":"nominal","title":"Correlation","scale":{"domain":["0","0.2","0.5","0.9"],"range":["circle","square","diamond","triangle-up"]}},
     "size":{"condition":[{"test":"datum.corr==='0'","value":529},{"test":"datum.corr==='0.2'","value":441},{"test":"datum.corr==='0.5'","value":824}],"value":936}
    }},
   {"mark":{"type":"point","opacity":0},
    "encoding":{"y":{"field":"mse","type":"quantitative","scale":{"domain":[-159,3340],"nice":false,"zero":false},"axis":{"orient":"right","values":[500,1500,2500],"labels":false,"ticks":false,"domain":false,"title":null,"grid":true,"gridWidth":1.5}}}}
  ],
  "resolve":{"axis":{"y":"independent"}}
 }
}
]
}
